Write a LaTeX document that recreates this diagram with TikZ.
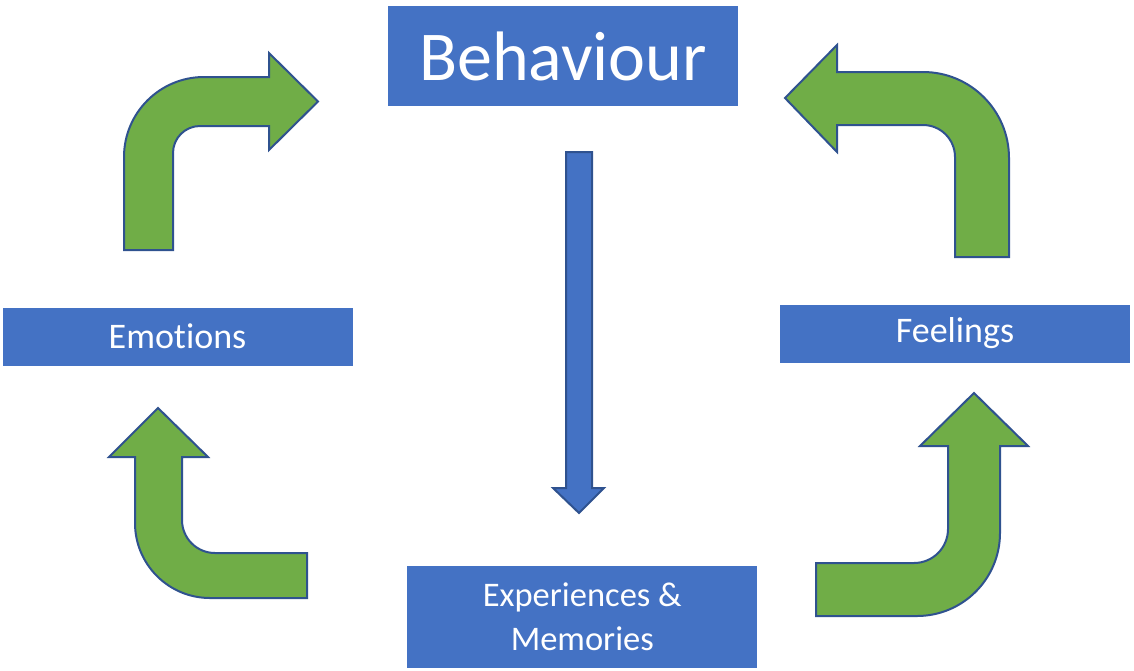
\documentclass[tikz,border=0pt]{standalone}
\usepackage{fontspec}
\setmainfont{Carlito}[Ligatures=NoCommon]
\usepackage{tikz}
\usetikzlibrary{calc}
\definecolor{boxblue}{HTML}{4472C4}
\definecolor{edgeblue}{HTML}{2F528F}
\definecolor{arrowgreen}{HTML}{70AD47}

\begin{document}
\begin{tikzpicture}[x=1pt,y=-1pt,
    bluebox/.style={fill=boxblue, text=white, inner sep=0pt, align=center, minimum width=350pt},
    greenarrow/.style={fill=arrowgreen, draw=edgeblue, line width=2pt, line join=miter},
    bluearrow/.style={fill=boxblue, draw=edgeblue, line width=2pt}]
     \useasboundingbox (0,0) rectangle (1134,670);
     \node[bluebox, minimum height=100pt, font=\fontsize{70}{80}\selectfont] (beh) at (563,56) {Behaviour};
     \node[bluebox, minimum height=58pt, font=\fontsize{36}{42}\selectfont] (emo) at (177.5,336.5) {Emotions};
     \node[bluebox, minimum height=58pt, font=\fontsize{36}{42}\selectfont] (feel) at (955,333.5) {Feelings};
     \node[bluebox, minimum height=102pt, font=\fontsize{34.5}{44}\selectfont] (exp) at (582.3,617.2) {Experiences \&\\Memories};
     % behaviour down to experiences
     \filldraw[bluearrow] (566,152) -- (592,152) -- (592,488) -- (604,488) -- (579,513) -- (553,488) -- (566,488) -- cycle;
     % emotions up to behaviour
     \filldraw[greenarrow] (124,250) -- (124,157) arc[start angle=180, end angle=90, radius=80pt] -- (269,77) -- (269,53)
        -- (318,101.5) -- (269,150) -- (269,126) -- (200,126) arc[start angle=90, end angle=180, radius=27pt] -- (173,250) -- cycle;
     % experiences up to emotions
     \filldraw[greenarrow] (158,408) -- (208,457) -- (182,457) -- (182,520) arc[start angle=180, end angle=270, radius=33pt]
        -- (307,553) -- (307,598) -- (210,598) arc[start angle=270, end angle=180, radius=75pt] -- (135,457) -- (109,457) -- cycle;
     % feelings up to behaviour
     \filldraw[greenarrow] (785,98) -- (837,45) -- (837,72) -- (923,72) arc[start angle=90, end angle=0, radius=86pt]
        -- (1009,257) -- (955,257) -- (955,157) arc[start angle=0, end angle=90, radius=32pt] -- (837,125) -- (837,152) -- cycle;
     % experiences up to feelings
     \filldraw[greenarrow] (974,393) -- (1028,446) -- (1000,446) -- (1000,533) arc[start angle=0, end angle=-90, radius=83pt]
        -- (816,616) -- (816,563) -- (914,563) arc[start angle=-90, end angle=0, radius=34pt] -- (948,446) -- (920,446) -- cycle;
\end{tikzpicture}
\end{document}
